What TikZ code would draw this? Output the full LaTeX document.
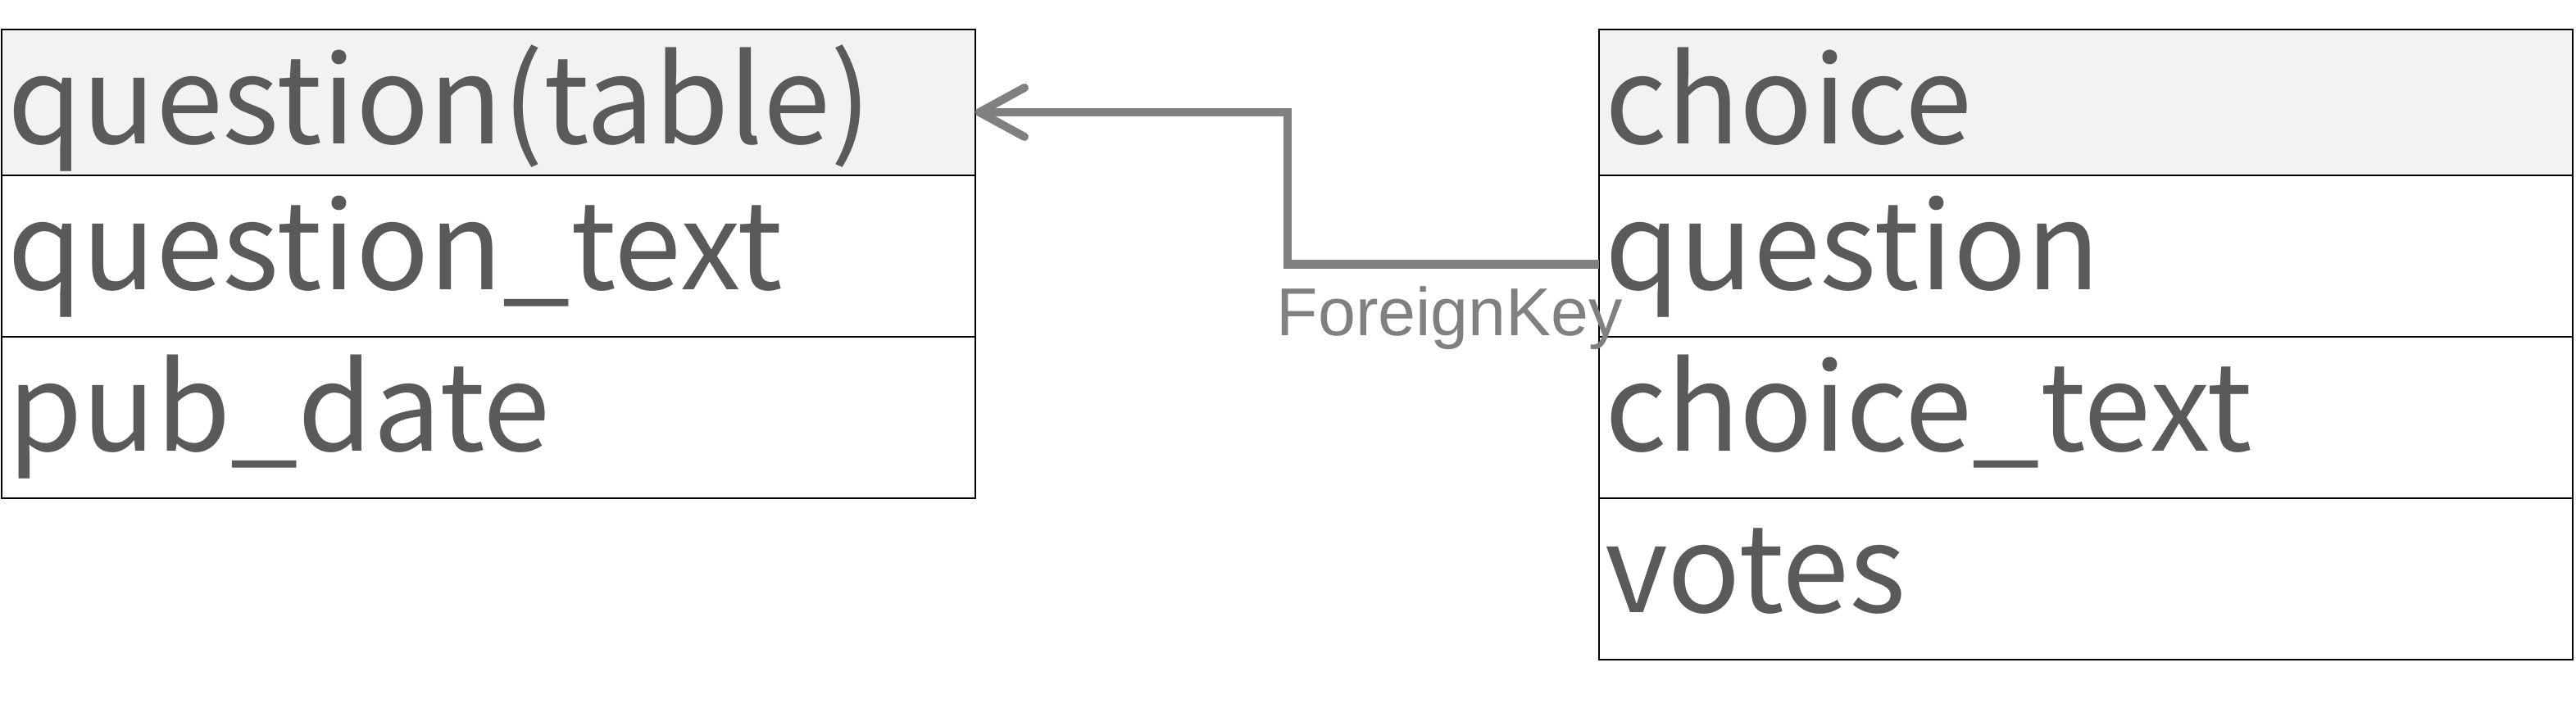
\documentclass[tikz,border=0pt]{standalone}
\usepackage{fontspec}
\newfontfamily\tablefont{Noto Sans CJK KR}
\newfontfamily\linkfont{Liberation Sans}
\usetikzlibrary{arrows.meta, positioning}

\definecolor{headfill}{RGB}{242,242,242}
\definecolor{fieldtext}{RGB}{90,90,90}
\definecolor{linkgray}{RGB}{128,128,128}

\begin{document}
\begin{tikzpicture}[
			field/.style={
				rectangle,
				draw,
				line width=0.7pt,
				minimum width=11.88cm,
				minimum height=1.97cm,
				text width=11.74cm,
				inner xsep=0.07cm,
				inner ysep=0pt,
				outer sep=0pt,
				text height=1.4cm,
				text depth=0.57cm,
				align=left,
				text=fieldtext,
				font=\tablefont\fontsize{42}{50}\selectfont
			},
			header/.style={
				field,
				fill=headfill,
				minimum height=1.78cm,
				text depth=0.38cm
			},
			fk/.style={
				-{Straight Barb[length=0.55cm, width=0.6cm, round]},
				draw=linkgray,
				line width=2.85pt
			},
			linklabel/.style={
				inner sep=0pt,
				text=linkgray,
				font=\linkfont\fontsize{23.5}{28}\selectfont
			}
			]
			
			\useasboundingbox (0,0) rectangle (31.43,-8.64);
			
			\node (qhead) [header, anchor=north west] at (0.02,-0.36) {question(table)};
			\node (qtext) [field, below=0pt of qhead] {question\_text};
			\node (qdate) [field, below=0pt of qtext] {pub\_date};
			
			\node (chead) [header, anchor=north west] at (19.51,-0.36) {choice};
			\node (cquestion) [field, below=0pt of chead] {question};
			\node (ctext) [field, below=0pt of cquestion] {choice\_text};
			\node (cvotes) [field, below=0pt of ctext] {votes};
			
			\draw [fk] ([yshift=-0.1cm]cquestion.west) -- ++(-3.8,0) |- ([yshift=-0.12cm]qhead.east);
			
			\node (fkname) [linklabel, anchor=base west] at ([xshift=-3.94cm, yshift=-0.975cm]cquestion.west) {ForeignKey};
			
		\end{tikzpicture}
\end{document}
